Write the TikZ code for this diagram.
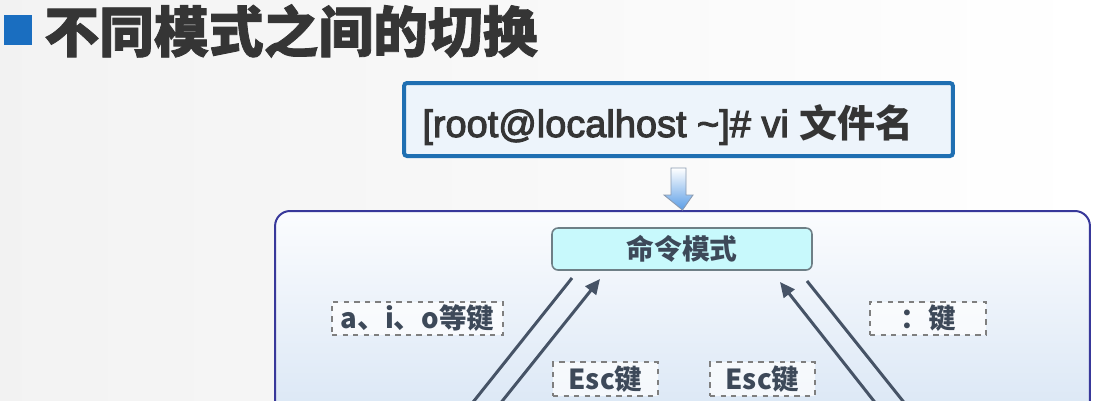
\documentclass[tikz,border=0pt]{standalone}
\usepackage{fontspec}
\setmainfont{Liberation Sans}
\newfontfamily\cjk{Noto Sans CJK SC}
\newfontfamily\cjkheavy{Noto Sans CJK SC}[BoldFeatures={FakeBold=1.5}]
\newfontfamily\latinsb{Liberation Sans}[FakeBold=2.8]
\usetikzlibrary{arrows.meta,calc}
\definecolor{titlegray}{HTML}{353535}
\definecolor{squareblue}{HTML}{1A6EC0}
\definecolor{topborder}{HTML}{1F6FB2}
\definecolor{topfill}{HTML}{EDF4FB}
\definecolor{contborder}{HTML}{38389A}
\definecolor{conttop}{HTML}{FBFCFE}
\definecolor{contbot}{HTML}{D9E6F5}
\definecolor{cmdfill}{HTML}{C8F9FC}
\definecolor{cmdborder}{HTML}{6E7F86}
\definecolor{labeltext}{HTML}{3D4959}
\definecolor{arrowcol}{HTML}{465366}
\definecolor{dashcol}{HTML}{7F7F7F}
\definecolor{bigarrowline}{HTML}{8A9AB0}
\definecolor{bigarrowbot}{HTML}{5A9DE6}
\begin{document}
\begin{tikzpicture}[x=0.02cm,y=-0.02cm,
  labelbox/.style={draw=dashcol,dashed,line width=0.9pt,fill=white,fill opacity=0.7,text opacity=1,
    text=labeltext,font=\cjk\bfseries\fontsize{15.7}{18}\selectfont,inner sep=0pt,
    minimum height=0.67cm},
  modebox/.style={draw=cmdborder,line width=0.9pt,fill=cmdfill,rounded corners=0.12cm,
    text=labeltext,font=\cjk\bfseries\fontsize{15.8}{18}\selectfont,inner sep=0pt},
  modearrow/.style={draw=arrowcol,line width=0.06cm,-{Triangle[length=0.3cm,width=0.27cm]}}
]
\useasboundingbox (0,0) rectangle (1095,400);
\clip (0,0) rectangle (1095,400);
% background
\shade[left color=gray!10,right color=white] (0,0) rectangle (1095,400);

% title
\fill[squareblue] (4,15) rectangle (32,45);
\node[anchor=west,inner sep=0pt,text=titlegray,font=\cjkheavy\bfseries\fontsize{31.2}{34}\selectfont]
  (title) at (44,31) {不同模式之间的切换};

% top command box
\node[draw=topborder,line width=0.08cm,fill=topfill,rounded corners=0.06cm,
  minimum width=10.98cm,minimum height=1.46cm,inner sep=0pt] (top) at (678.5,119.5) {};
\node[anchor=base west,inner sep=0pt,text=titlegray,font=\latinsb\fontsize{21.6}{24}\selectfont]
  (cmdtext) at (422,137) {[root@localhost \textasciitilde]\# vi {\cjk\bfseries 文件名}};

% container
\node[draw=contborder,line width=0.04cm,top color=conttop,bottom color=contbot,
  rounded corners=0.3cm,minimum width=16.3cm,minimum height=4.3cm,inner sep=0pt,anchor=north]
  (cont) at (682.5,210) {};

% hollow block arrow from top box to container
\path[draw=bigarrowline,line width=0.5pt,top color=white,bottom color=bigarrowbot]
  ($(top.south)+(-7.5,10)$) -- ($(top.south)+(7.5,10)$) -- ($(top.south)+(7.5,37)$)
  -- ($(top.south)+(14.5,37)$) -- (cont.north) -- ($(top.south)+(-14.5,37)$)
  -- ($(top.south)+(-7.5,37)$) -- cycle;

% command mode
\node[modebox,minimum width=5.2cm,minimum height=0.84cm] (cmd) at (682,249) {命令模式};

% labels
\node[labelbox,minimum width=3.42cm] (lab1) at (417.5,318.5) {a、i、o等键};
\node[labelbox,minimum width=2.1cm] (esc1) at (605.5,379) {Esc键};
\node[labelbox,minimum width=2.1cm] (esc2) at (762.5,379) {Esc键};
\node[labelbox,minimum width=2.32cm] (lab2) at (928,318.5) {：键};

% connector end points (lower modes lie below the visible area)
\coordinate (a1s) at (572,278);
\coordinate (a1e) at (395,500);
\coordinate (a2s) at (423,500);
\coordinate (a2e) at (600,279);
\coordinate (a3s) at (952,500);
\coordinate (a3e) at (780,282);
\coordinate (a4s) at (807,281);
\coordinate (a4e) at (982,500);

\draw[modearrow] (a1s) -- (a1e);
\draw[modearrow] (a2s) -- (a2e);
\draw[modearrow] (a3s) -- (a3e);
\draw[modearrow] (a4s) -- (a4e);
\end{tikzpicture}
\end{document}
